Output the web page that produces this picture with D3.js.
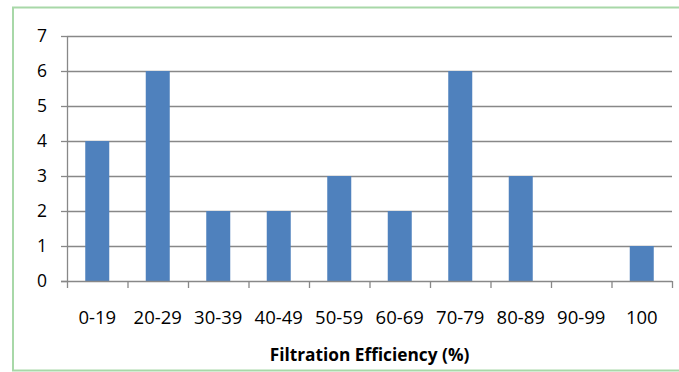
<!DOCTYPE html>
<html>
<head>
<meta charset="utf-8">
<script src="https://cdn.jsdelivr.net/npm/d3@7"></script>
<style>
  html, body { margin: 0; padding: 0; background: #fff; }
  svg { display: block; }
  text { font-family: "Open Sans", "Noto Sans", sans-serif; fill: #000; }
</style>
</head>
<body>
<svg id="chart" width="679" height="372"></svg>
<script>
// Filtration efficiency histogram: number of samples per efficiency band
const categories = ["0-19", "20-29", "30-39", "40-49", "50-59", "60-69", "70-79", "80-89", "90-99", "100"];
const counts = [4, 6, 2, 2, 3, 2, 6, 3, 0, 1];
const yTicks = [0, 1, 2, 3, 4, 5, 6, 7];
const xTitle = "Filtration Efficiency (%)";

const svg = d3.select("#chart");
const W = 679, H = 372;
const margin = { top: 36, right: 7, bottom: 91, left: 67 };
const plotW = W - margin.left - margin.right;
const plotH = H - margin.top - margin.bottom;

// Outer chart frame (light green)
svg.append("rect")
  .attr("x", 13).attr("y", 7.5)
  .attr("width", 700).attr("height", 363)
  .attr("fill", "none")
  .attr("stroke", "#a8d8a8")
  .attr("stroke-width", 2);

const g = svg.append("g").attr("transform", `translate(${margin.left},${margin.top})`);

const xOuter = d3.scaleBand().domain(categories).range([0, plotW]);
const y = d3.scaleLinear().domain([0, 7]).range([plotH, 0]);

// Horizontal gridlines
g.append("g").selectAll("line")
  .data(yTicks.filter(d => d > 0))
  .join("line")
  .attr("x1", 0).attr("x2", plotW)
  .attr("y1", d => Math.round(y(d)) + 0.5).attr("y2", d => Math.round(y(d)) + 0.5)
  .attr("stroke", "#888")
  .attr("stroke-width", 1.3);

// Bars
const barW = 24;
g.append("g").selectAll("rect")
  .data(categories.map((c, i) => ({ c, v: counts[i] })))
  .join("rect")
  .attr("x", d => xOuter(d.c) + (xOuter.bandwidth() - barW) / 2)
  .attr("width", barW)
  .attr("y", d => y(d.v))
  .attr("height", d => plotH - y(d.v))
  .attr("fill", "#4f81bd");

// Y axis
const yAxis = g.append("g")
  .call(d3.axisLeft(y).tickValues(yTicks).tickSize(6).tickPadding(14).tickFormat(d3.format("d")));
yAxis.select(".domain").attr("stroke", "#888").attr("stroke-width", 1.3).attr("d", `M0.5,${plotH}V0`);
yAxis.selectAll(".tick line").attr("stroke", "#888").attr("stroke-width", 1.3);
yAxis.selectAll(".tick text").attr("font-size", 17.5).attr("font-family", "Open Sans, sans-serif").attr("fill", "#000");

// X axis with ticks at category boundaries
const xAxisG = g.append("g").attr("transform", `translate(0,${plotH})`);
xAxisG.append("line")
  .attr("x1", -6).attr("x2", plotW)
  .attr("y1", 0.5).attr("y2", 0.5)
  .attr("stroke", "#888").attr("stroke-width", 1.3);
xAxisG.selectAll(".xtick")
  .data(d3.range(categories.length + 1))
  .join("line")
  .attr("class", "xtick")
  .attr("x1", i => i * xOuter.step() + 0.5).attr("x2", i => i * xOuter.step() + 0.5)
  .attr("y1", 0).attr("y2", 7)
  .attr("stroke", "#888").attr("stroke-width", 1.3);
xAxisG.selectAll(".xlabel")
  .data(categories)
  .join("text")
  .attr("class", "xlabel")
  .attr("x", d => xOuter(d) + xOuter.bandwidth() / 2)
  .attr("y", 42.5)
  .attr("text-anchor", "middle")
  .attr("font-size", 18.5)
  .text(d => d);

// X axis title
svg.append("text")
  .attr("x", 369.5)
  .attr("y", 361)
  .attr("text-anchor", "middle")
  .attr("font-size", 17.3)
  .attr("font-weight", "bold")
  .text(xTitle);
</script>
</body>
</html>
